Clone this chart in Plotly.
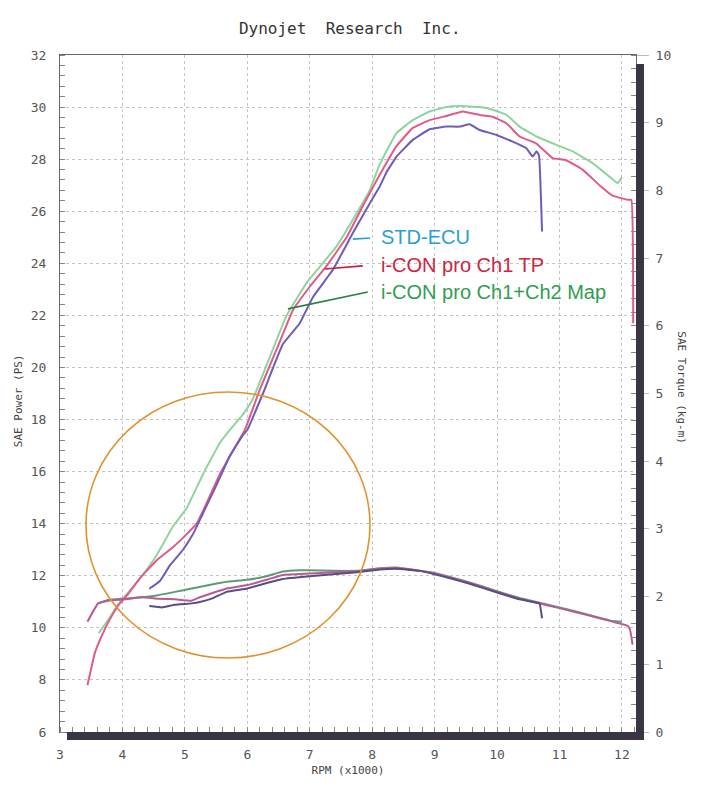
import plotly.graph_objects as go

# ---------------- data ----------------
# STD-ECU
std_rpm = [4.43, 4.6, 4.76, 4.97, 5.13, 5.29, 5.51, 5.72, 5.93, 6.0, 6.25, 6.57, 6.84, 7.05,
           7.37, 7.69, 7.96, 8.12, 8.23, 8.39, 8.65, 8.92, 9.19, 9.4, 9.56, 9.72, 9.99,
           10.25, 10.47, 10.57, 10.63, 10.67, 10.72]
std_ps = [11.5, 11.8, 12.4, 13.0, 13.6, 14.4, 15.5, 16.6, 17.4, 17.6, 19.0, 20.9, 21.7, 22.7,
          23.75, 25.16, 26.3, 26.95, 27.5, 28.1, 28.74, 29.15, 29.25, 29.25, 29.34, 29.12, 28.93,
          28.67, 28.42, 28.1, 28.3, 28.16, 25.22]
std_tq_rpm = [4.43, 4.63, 4.84, 5.11, 5.24, 5.43, 5.67, 6.0, 6.31, 6.57, 7.0, 7.37, 7.76, 8.12,
              8.39, 8.76, 9.0, 9.29, 9.56, 10.0, 10.36, 10.63, 10.68, 10.72]
std_tq = [1.86, 1.84, 1.88, 1.90, 1.92, 1.97, 2.07, 2.12, 2.20, 2.26, 2.30, 2.33, 2.36, 2.40,
          2.41, 2.38, 2.33, 2.26, 2.19, 2.06, 1.96, 1.91, 1.90, 1.68]

# i-CON pro Ch1 TP
tp_rpm = [3.44, 3.56, 3.67, 3.77, 3.93, 4.09, 4.28, 4.55, 4.81, 5.03, 5.19, 5.35, 5.56, 5.77,
          5.96, 6.2, 6.47, 6.73, 7.0, 7.27, 7.59, 7.85, 8.12, 8.39, 8.65, 8.92, 9.19, 9.45,
          9.72, 9.93, 10.15, 10.36, 10.63, 10.89, 11.1, 11.37, 11.64, 11.85, 12.09, 12.15, 12.18]
tp_ps = [7.8, 9.05, 9.7, 10.2, 10.85, 11.3, 11.9, 12.6, 13.1, 13.6, 14.0, 14.8, 15.9, 16.8,
         17.6, 19.15, 20.7, 22.2, 23.1, 23.9, 25.0, 26.2, 27.4, 28.5, 29.2, 29.5, 29.66, 29.83,
         29.7, 29.63, 29.38, 28.87, 28.6, 28.04, 27.97, 27.6, 27.0, 26.6, 26.44, 26.44, 21.7]
tp_tq_rpm = [3.44, 3.61, 3.77, 4.04, 4.31, 4.57, 4.84, 5.11, 5.24, 5.43, 5.67, 6.0, 6.31, 6.57,
             7.0, 7.37, 7.76, 8.12, 8.39, 8.76, 9.0, 9.29, 9.56, 10.0, 10.36, 10.63, 11.0,
             11.43, 11.85, 12.09, 12.13, 12.17]
tp_tq = [1.63, 1.90, 1.94, 1.96, 1.99, 1.97, 1.96, 1.94, 1.99, 2.05, 2.12, 2.17, 2.25, 2.32,
         2.34, 2.36, 2.37, 2.41, 2.42, 2.38, 2.34, 2.27, 2.20, 2.07, 1.97, 1.91, 1.83,
         1.73, 1.63, 1.57, 1.51, 1.29]

# i-CON pro Ch1+Ch2 Map
map_rpm = [3.62, 3.77, 3.93, 4.09, 4.28, 4.55, 4.81, 5.03, 5.29, 5.56, 5.72, 5.93, 6.09, 6.36,
           6.63, 6.95, 7.12, 7.43, 7.69, 7.96, 8.12, 8.39, 8.65, 8.92, 9.19, 9.4, 9.72, 9.93,
           10.15, 10.36, 10.63, 10.95, 11.21, 11.53, 11.8, 11.93, 12.0]
map_ps = [9.8, 10.3, 10.9, 11.35, 11.9, 12.8, 13.9, 14.6, 15.9, 17.1, 17.6, 18.2, 18.8, 20.4,
          22.0, 23.25, 23.75, 24.65, 25.67, 26.8, 27.8, 29.0, 29.5, 29.83, 30.0, 30.04, 30.0, 29.9,
          29.7, 29.25, 28.87, 28.55, 28.3, 27.85, 27.33, 27.08, 27.3]
map_tq_rpm = [3.62, 3.77, 4.04, 4.31, 4.57, 4.84, 5.11, 5.43, 5.67, 6.0, 6.31, 6.57, 6.84, 7.0,
              7.37, 7.76, 8.12, 8.39, 8.71, 9.0, 9.29, 9.56, 10.0, 10.36, 10.63, 11.0, 11.43,
              11.85, 12.0]
map_tq = [1.90, 1.95, 1.97, 1.99, 2.02, 2.07, 2.12, 2.18, 2.22, 2.25, 2.30, 2.37, 2.39, 2.39,
          2.38, 2.38, 2.42, 2.43, 2.39, 2.35, 2.28, 2.21, 2.08, 1.98, 1.92, 1.84, 1.74,
          1.64, 1.63]

x_ticks = [3, 4, 5, 6, 7, 8, 9, 10, 11, 12]
y_ticks = [6, 8, 10, 12, 14, 16, 18, 20, 22, 24, 26, 28, 30, 32]
y2_ticks = [0, 1, 2, 3, 4, 5, 6, 7, 8, 9, 10]

legend_labels = ["STD-ECU", "i-CON pro Ch1 TP", "i-CON pro Ch1+Ch2 Map"]

# ---------------- styles ----------------
C_STD_P, C_STD_T = "#6e5cba", "#5b4b86"
C_TP_P, C_TP_T = "#e25a88", "#b85b92"
C_MAP_P, C_MAP_T = "#8fd49d", "#5f9a76"
TXT_COLORS = ["#2a9fd2", "#cf2340", "#2f9e52"]
LEAD_COLORS = ["#2a9fd2", "#c8203a", "#2d7f48"]
MONO = "DejaVu Sans Mono"

fig = go.Figure()

def add(x, y, color, axis="y"):
    fig.add_trace(go.Scatter(x=x, y=y, mode="lines", yaxis=axis, showlegend=False,
                             line=dict(color=color, width=2, shape="spline", smoothing=0.3),
                             hoverinfo="skip"))

add(map_tq_rpm, map_tq, C_MAP_T, "y2")
add(tp_tq_rpm, tp_tq, C_TP_T, "y2")
add(std_tq_rpm, std_tq, C_STD_T, "y2")
add(map_rpm, map_ps, C_MAP_P)
add(tp_rpm, tp_ps, C_TP_P)
add(std_rpm, std_ps, C_STD_P)

# legend-like labels with leader lines (positions in data units)
lead_from = [(7.69, 24.93), (7.24, 23.78), (6.65, 22.25)]
lead_to = [(7.965, 24.97), (7.85, 23.90), (7.93, 22.90)]
text_pos = [(8.16, 25.01), (8.16, 23.94), (8.16, 22.90)]
for lab, tc, lc, a, b, t in zip(legend_labels, TXT_COLORS, LEAD_COLORS, lead_from, lead_to, text_pos):
    fig.add_shape(type="line", x0=a[0], y0=a[1], x1=b[0], y1=b[1], xref="x", yref="y",
                  line=dict(color=lc, width=1.6))
    fig.add_annotation(x=t[0], y=t[1], xref="x", yref="y", text=lab, showarrow=False,
                       xanchor="left", yanchor="middle", xshift=-3,
                       font=dict(family="Liberation Sans, Arial", size=20, color=tc))

# orange circle
fig.add_shape(type="circle", xref="x", yref="y", x0=3.416, x1=7.965, y0=8.843, y1=19.06,
              line=dict(color="#e0922e", width=1.6), layer="above")

# dark shadow bars of the scanned frame
fig.add_shape(type="rect", xref="paper", yref="paper", x0=1.0, x1=1.0139, y0=-0.0118, y1=0.9867,
              fillcolor="#3b3442", line=dict(width=0), layer="above")
fig.add_shape(type="rect", xref="paper", yref="paper", x0=0.0122, x1=1.0139, y0=-0.0118, y1=0.0,
              fillcolor="#3b3442", line=dict(width=0), layer="above")

grid = dict(showgrid=True, gridcolor="#c4c4c4", gridwidth=1, griddash="dot")
tickfont = dict(family=MONO, size=13, color="#555")

# page body has an 8px default margin, so the figure is 8px smaller than the window
fig.update_layout(
    width=696, height=780,
    margin=dict(l=52, r=68, t=47, b=56),
    paper_bgcolor="white", plot_bgcolor="white",
    title=dict(text="Dynojet\u00a0\u00a0Research\u00a0\u00a0Inc.", x=0.491, xanchor="center",
               y=0.974, yanchor="middle", font=dict(family=MONO, size=16, color="#333")),
    xaxis=dict(range=[3, 12.225], tickvals=x_ticks, ticktext=[str(v) for v in x_ticks],
               showline=True, linecolor="#666", linewidth=1, mirror=True, ticks="",
               tickfont=tickfont, ticklabelstandoff=10, zeroline=False,
               minor=dict(dtick=0.2, tick0=3, ticks="inside", ticklen=5, tickcolor="#888",
                          showgrid=False),
               title=dict(text="RPM (x1000)", font=dict(family=MONO, size=11, color="#444"),
                          standoff=5),
               **grid),
    yaxis=dict(range=[6, 32], tickvals=y_ticks, ticktext=[str(v) for v in y_ticks],
               showline=True, linecolor="#666", linewidth=1, mirror=True, ticks="",
               tickfont=tickfont, ticklabelstandoff=10, zeroline=False,
               minor=dict(dtick=0.4, tick0=6, ticks="inside", ticklen=5, tickcolor="#888",
                          showgrid=False),
               **grid),
    yaxis2=dict(range=[0, 10], tickvals=y2_ticks, ticktext=[str(v) for v in y2_ticks],
                overlaying="y", side="right", showgrid=False, zeroline=False,
                ticks="outside", ticklen=12, tickcolor="#bbb", tickfont=tickfont,
                ticklabelstandoff=4,
                minor=dict(dtick=0.2, tick0=0, ticks="inside", ticklen=5, tickcolor="#888")),
)

# axis titles as rotated annotations
fig.add_annotation(xref="paper", yref="paper", x=-0.073, y=0.49, text="SAE Power (PS)",
                   textangle=-90, showarrow=False, xanchor="center", yanchor="middle",
                   font=dict(family=MONO, size=11, color="#444"))
fig.add_annotation(xref="paper", yref="paper", x=1.08, y=0.509, text="SAE Torque (kg-m)",
                   textangle=90, showarrow=False, xanchor="center", yanchor="middle",
                   font=dict(family=MONO, size=11, color="#444"))

fig.write_html("out.html", config={"displayModeBar": False})
